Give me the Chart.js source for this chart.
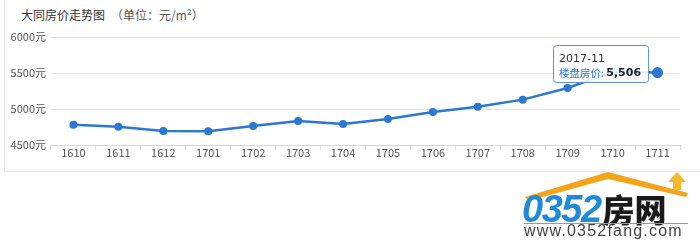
<!DOCTYPE html>
<html>
<head>
<meta charset="utf-8">
<script src="https://cdn.jsdelivr.net/npm/chart.js@4.4.1/dist/chart.umd.min.js"></script>
<style>
  body { margin: 0; background: #fff; width: 700px; height: 248px; overflow: hidden; position: relative; }
  #panel { position: absolute; left: 4px; top: -2px; width: 700px; height: 173px; border-left: 1px solid #e6eaee; border-bottom: 1px solid #e6eaee; }
  #titulo { position: absolute; left: 21px; top: 6px; font: 12px "Noto Sans CJK SC", sans-serif; color: #333; }
  #titulo span { color: #555; margin-left: 6px; }
  #wrap { position: absolute; left: 0; top: 0; width: 700px; height: 172px; }
  #logo { position: absolute; left: 516px; top: 166px; width: 184px; height: 82px; }
  #logo .marca { position: absolute; left: 6px; top: 22px; font: italic bold 38px/40px "Liberation Sans", sans-serif; color: #1f8ad8; letter-spacing: -1.5px; white-space: nowrap; }
  #logo .marca b { font-style: normal; font-family: "Noto Sans CJK SC", sans-serif; font-size: 32px; color: #1a1a1a; letter-spacing: 0; margin-left: 2px; }
  #logo .raya { position: absolute; left: 8px; top: 57px; width: 164px; height: 1px; background: #9a9a9a; }
  #logo .web { position: absolute; left: 8px; top: 57px; font: 16px/16px "Liberation Sans", sans-serif; color: #444; letter-spacing: 1.2px; white-space: nowrap; }
</style>
</head>
<body>
<div id="panel"></div>
<div id="titulo">大同房价走势图<span>（单位：元/m²）</span></div>
<div id="wrap"><canvas id="myChart" width="700" height="172"></canvas></div>
<div id="logo">
  <svg width="184" height="40" style="position:absolute;left:0;top:0">
    <polygon points="9,31 92,6 172,27 170,31 92,13 12,35" fill="#f5a31a"/>
    <polygon points="152,16 161,6 170,16 165,16 165,24 157,24 157,16" fill="#f7b82a"/>
  </svg>
  <div class="marca">0352<b>房网</b></div>
  <div class="raya"></div>
  <div class="web">www.0352fang.com</div>
</div>
<script>
const meses = ["1610", "1611", "1612", "1701", "1702", "1703", "1704", "1705", "1706", "1707", "1708", "1709", "1710", "1711"];
const fechas = ["2016-10", "2016-11", "2016-12", "2017-01", "2017-02", "2017-03", "2017-04", "2017-05", "2017-06", "2017-07", "2017-08", "2017-09", "2017-10", "2017-11"];
const precios = [4782, 4754, 4695, 4690, 4764, 4834, 4792, 4861, 4959, 5032, 5130, 5292, 5520, 5506];
const ticksY = [4500, 5000, 5500, 6000];
const nombreSerie = "楼盘房价";
const indiceActivo = precios.length - 1;

const azul = "#2a78d2";
const miGraf = document.querySelector("#myChart");

// tooltip fijo sobre el ultimo punto, como en la captura
const tooltipFijo = {
  id: "tooltipFijo",
  afterDatasetsDraw(chart) {
    const punto = chart.getDatasetMeta(0).data[indiceActivo];
    const ctx = chart.ctx;
    const valor = new Intl.NumberFormat("en-US").format(precios[indiceActivo]);
    ctx.save();
    ctx.font = "10.5px 'Noto Sans CJK SC'";
    const etiqueta = nombreSerie + ": ";
    const anchoEtiqueta = ctx.measureText(etiqueta).width;
    ctx.font = "bold 11px 'DejaVu Sans'";
    const anchoValor = ctx.measureText(valor).width;
    const ancho = anchoEtiqueta + anchoValor + 13;
    const alto = 37;
    const x = Math.round(punto.x - 9 - ancho);
    const y = Math.round(punto.y - 28);
    ctx.beginPath();
    ctx.roundRect(x + 0.5, y + 0.5, ancho, alto, 3);
    ctx.fillStyle = "rgba(255,255,255,0.88)";
    ctx.fill();
    ctx.strokeStyle = "#5b93d3";
    ctx.lineWidth = 1;
    ctx.stroke();
    ctx.textBaseline = "middle";
    ctx.fillStyle = "#333";
    ctx.font = "11px 'DejaVu Sans'";
    ctx.fillText(fechas[indiceActivo], x + 6, y + 14);
    ctx.fillStyle = azul;
    ctx.font = "10.5px 'Noto Sans CJK SC'";
    ctx.fillText(etiqueta, x + 6, y + 28);
    ctx.fillStyle = "#222";
    ctx.font = "bold 11px 'DejaVu Sans'";
    ctx.fillText(valor, x + 6 + anchoEtiqueta, y + 28);
    ctx.restore();
  }
};

const config = {
  type: "line",
  data: {
    labels: meses,
    datasets: [{
      label: nombreSerie,
      data: precios,
      borderColor: azul,
      backgroundColor: azul,
      borderWidth: 2.5,
      pointRadius: (c) => (c.dataIndex === indiceActivo ? 5.5 : 4),
      pointBorderWidth: 0,
      tension: 0
    }]
  },
  options: {
    responsive: false,
    animation: false,
    layout: { padding: { left: 0, top: 37, right: 20, bottom: 0 } },
    plugins: { legend: { display: false }, tooltip: { enabled: false } },
    scales: {
      x: {
        offset: true,
        grid: { offset: true, drawOnChartArea: false, drawTicks: true, tickLength: 5, color: "#d8dee8" },
        border: { color: "#d0d8e4" },
        ticks: { color: "#555", padding: -4, font: { family: "'Noto Sans CJK SC'", size: 11 }, maxRotation: 0, autoSkip: false },
        afterFit: (s) => { s.height = 27; }
      },
      y: {
        min: 4500,
        max: 6000,
        afterBuildTicks: (s) => { s.ticks = ticksY.map((v) => ({ value: v })); },
        grid: { drawTicks: false, color: "#e3e3e3" },
        border: { display: false },
        ticks: { color: "#555", padding: 5, font: { family: "'Noto Sans CJK SC'", size: 11 }, callback: (v) => v + "元" },
        afterFit: (s) => { s.width = 51; }
      }
    }
  },
  plugins: [tooltipFijo]
};

const myChart = new Chart(miGraf, config);
</script>
</body>
</html>
